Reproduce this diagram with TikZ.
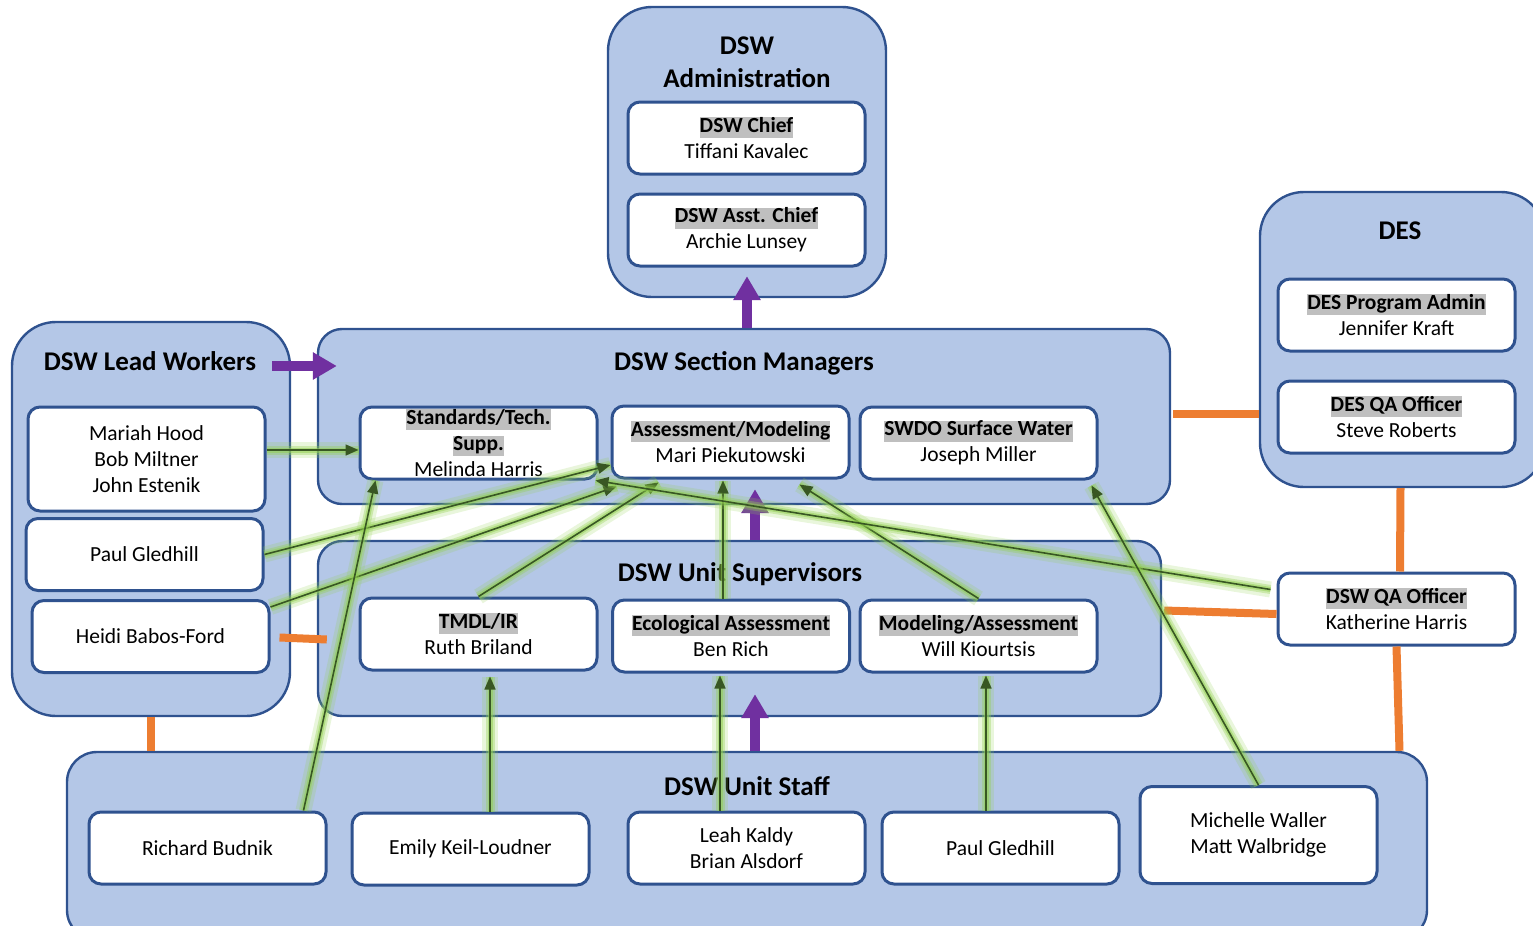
\documentclass[tikz,border=0pt]{standalone}
\usepackage{fontspec}
\setmainfont{Carlito}
\usepackage{xcolor}
\usetikzlibrary{arrows.meta,calc}
\definecolor{boxblue}{HTML}{B4C7E7}
\definecolor{bordblue}{HTML}{2F528F}
\definecolor{hlgray}{HTML}{BFBFBF}
\definecolor{arrowpurple}{HTML}{7030A0}
\definecolor{linkorange}{HTML}{ED7D31}
\definecolor{feedgreen}{HTML}{385723}
\definecolor{glowgreen}{HTML}{92D050}
\newcommand{\hilite}[1]{{\setlength{\fboxsep}{0pt}\colorbox{hlgray}{\rule[-3pt]{0pt}{9.8pt}\textbf{#1}}}}

\begin{document}
\begin{tikzpicture}[x=0.5pt,y=-0.5pt,
  group/.style={draw=bordblue, fill=boxblue, line width=1.2pt, rounded corners=22pt},
  member/.style={draw=bordblue, fill=white, line width=1.5pt, rounded corners=6pt,
    minimum width=118.5pt, minimum height=36pt, align=center,
    font=\fontsize{10.75}{13}\selectfont},
  title/.style={font=\fontsize{13.5}{16.5}\selectfont\bfseries, align=center},
  link/.style={draw=linkorange, line width=4pt},
  bigarrow/.style={draw=arrowpurple, line width=5pt, -{Triangle[length=12pt,width=13pt]}},
  feed/.style={draw=feedgreen, line width=0.8pt, -{Triangle[length=6.5pt,width=5.5pt]},
    preaction={draw=glowgreen, -, line width=8pt, opacity=0.2},
    preaction={draw=glowgreen, -, line width=4.5pt, opacity=0.35},
    preaction={draw=glowgreen, -, line width=2.5pt, opacity=0.5}}]
\path[use as bounding box, clip] (0,0) rectangle (1533,926);

% groups
\node[group, minimum width=139pt, minimum height=145pt] (adm) at (747,152) {};
\node[group, minimum width=142.5pt, minimum height=147.5pt] (des) at (1402.5,339.5) {};
\node[group, minimum width=139pt, minimum height=197pt] (lead) at (151,519) {};
\node[group, rounded corners=12pt, minimum width=426pt, minimum height=87.5pt] (mgr) at (744,416.5) {};
\node[group, rounded corners=12pt, minimum width=421.5pt, minimum height=87.5pt] (sup) at (739.5,628.5) {};
\node[group, rounded corners=15pt, minimum width=680pt, minimum height=94pt] (staff) at (747,846) {};

\node[title] (admT) at (747,62) {DSW\\Administration};
\node[title] (desT) at (1400,231) {DES};
\node[title] (leadT) at (150,361) {DSW Lead Workers};
\node[title] (mgrT) at (744,363) {DSW Section Managers};
\node[title] (supT) at (740,574) {DSW Unit Supervisors};
\node[title] (staffT) at (747,786) {DSW Unit Staff};

% people
\node[member] (chief) at (746.5,138) {\hilite{DSW Chief}\\Tiffani Kavalec};
\node[member] (asst) at (746.5,230) {\hilite{DSW Asst. Chief}\\Archie Lunsey};
\node[member] (desadmin) at (1396.5,315) {\hilite{DES Program Admin}\\Jennifer Kraft};
\node[member] (desqa) at (1396.5,417) {\hilite{DES QA Officer}\\Steve Roberts};
\node[member] (dswqa) at (1396.5,609) {\hilite{DSW QA Officer}\\Katherine Harris};
\node[member, minimum height=52pt] (mariah) at (146.5,459) {Mariah Hood\\Bob Miltner\\John Estenik};
\node[member] (paull) at (144.5,554.5) {Paul Gledhill};
\node[member] (heidi) at (150.5,636.5) {Heidi Babos-Ford};
\node[member, inner ysep=0pt] (stds) at (478.5,443) {\hilite{Standards/Tech.}\\\hilite{Supp.}\\Melinda Harris};
\node[member] (assess) at (730.5,442) {\hilite{Assessment/Modeling}\\Mari Piekutowski};
\node[member] (swdo) at (978.5,443) {\hilite{SWDO Surface Water}\\Joseph Miller};
\node[member] (tmdl) at (478.5,634) {\hilite{TMDL/IR}\\Ruth Briland};
\node[member] (eco) at (731,636) {\hilite{Ecological Assessment}\\Ben Rich};
\node[member] (model) at (978.5,636) {\hilite{Modeling/Assessment}\\Will Kiourtsis};
\node[member] (budnik) at (207.5,848) {Richard Budnik};
\node[member] (emily) at (470.5,849) {Emily Keil-Loudner};
\node[member] (leah) at (746.5,848) {Leah Kaldy\\Brian Alsdorf};
\node[member] (pauls) at (1000.5,848) {Paul Gledhill};
\node[member, minimum height=48.5pt] (michelle) at (1258.5,835) {Michelle Waller\\Matt Walbridge};

% orange links
\draw[link] ($(mgr.east)+(2,-3)$) -- ($(mgr.east -| des.west)+(0,-3)$);
\draw[link] ($(dswqa.north)+(3.5,0)$) -- ($(des.south)+(-2,0)$);
\draw[link] ($(sup.east)+(2,-18)$) -- ($(dswqa.west)+(0,5)$);
\draw[link] (dswqa.south) -- ($(staff.north -| dswqa.south)+(3,0)$);
\draw[link] ($(heidi.east)+(9,1)$) -- ($(sup.west |- heidi.east)+(10,3)$);
\draw[link] (lead.south) -- (lead.south |- staff.north);

% purple arrows
\draw[bigarrow] (adm.south |- mgr.north) -- ($(adm.south)+(0,-22)$);
\draw[bigarrow] ($(leadT.east)+(9,5)$) -- ($(mgr.west |- leadT.east)+(20,5)$);
\draw[bigarrow] ($(sup.north)+(15.5,0)$) -- ($(mgr.south)+(11,-16)$);
\draw[bigarrow] ($(staff.north)+(8,0)$) -- ($(sup.south)+(15.5,-23)$);

% green feeds
\draw[feed] ($(mariah.east)+(0,-9)$) -- ($(stds.west)+(0,7)$);
\draw[feed] (paull.east) -- ($(assess.west)+(0,23)$);
\draw[feed] ($(heidi.north east)+(0,8)$) -- ($(assess.south west)+(6,7)$);
\draw[feed] (tmdl.north) -- ($(assess.south west)+(48,3)$);
\draw[feed] ($(budnik.north east)+(-24,0)$) -- ($(stds.south west)+(17,0)$);
\draw[feed] ($(emily.north)+(19.5,0)$) -- ($(tmdl.south)+(11.5,5)$);
\draw[feed] ($(eco.north)+(-8,0)$) -- ($(assess.south)+(-7.5,1)$);
\draw[feed] ($(leah.north)+(-26.5,0)$) -- ($(eco.south)+(-11,2)$);
\draw[feed] ($(pauls.north)+(-14.5,0)$) -- ($(model.south)+(7.5,2)$);
\draw[feed] (model.north) -- ($(assess.south east)+(-51,5)$);
\draw[feed] ($(dswqa.north west)+(-6,18)$) -- ($(stds.south east)+(-3,0)$);
\draw[feed] (michelle.north) -- ($(swdo.south east)+(-7,5)$);
\end{tikzpicture}
\end{document}
